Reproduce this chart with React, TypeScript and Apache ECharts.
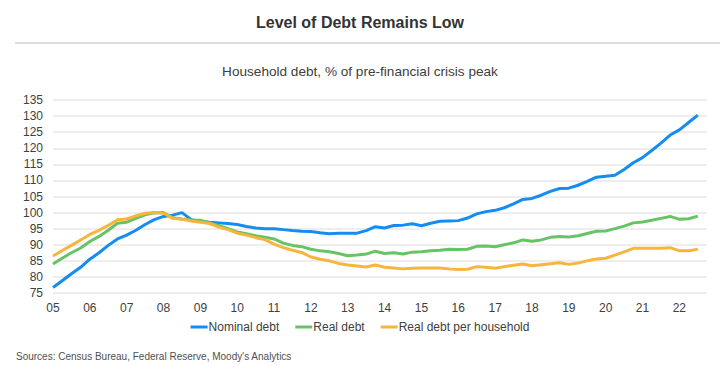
import React, { useEffect, useRef } from "react";
import * as echarts from "echarts";

const years = ["05","06","07","08","09","10","11","12","13","14","15","16","17","18","19","20","21","22"];
const quarters = ["Q1","Q2","Q3","Q4"];
const categories: string[] = years.flatMap((y) => quarters.map((q) => `${y}${q}`));

const nominalDebt = [
  76.7, 78.8, 81, 83, 85.5, 87.5, 89.8, 91.8, 93, 94.5, 96.3, 97.8, 98.8, 99.2, 100, 97.8,
  97.3, 97, 96.8, 96.6, 96.3, 95.7, 95.2, 95, 95, 94.7, 94.4, 94.2, 94.1, 93.7, 93.4, 93.6,
  93.6, 93.6, 94.4, 95.6, 95.2, 96, 96.1, 96.5, 95.9, 96.7, 97.3, 97.4, 97.5, 98.3, 99.6, 100.3,
  100.7, 101.5, 102.7, 104.1, 104.4, 105.4, 106.6, 107.5, 107.6, 108.5, 109.7, 111, 111.3, 111.6,
  113.4, 115.5, 117.1, 119.3, 121.6, 124.1, 125.7, 128, 130.3,
];
const realDebt = [
  84, 85.8, 87.5, 89, 91, 92.6, 94.5, 96.7, 97, 98.2, 99.3, 99.9, 100, 98.4, 98, 97.7,
  97.6, 96.8, 96, 95, 94, 93.4, 92.8, 92.3, 91.8, 90.5, 89.8, 89.4, 88.6, 88.1, 87.8, 87.3,
  86.6, 86.8, 87.1, 88, 87.3, 87.5, 87.1, 87.7, 87.8, 88.1, 88.3, 88.6, 88.5, 88.6, 89.5, 89.6,
  89.4, 90, 90.6, 91.5, 91.1, 91.5, 92.3, 92.6, 92.4, 92.8, 93.5, 94.2, 94.3, 95,
  95.8, 96.8, 97.1, 97.6, 98.2, 98.8, 97.9, 98.1, 98.9,
];
const realDebtPerHousehold = [
  86.5, 88.2, 89.8, 91.5, 93.2, 94.5, 96, 97.8, 98, 99, 99.8, 100, 99.9, 98.2, 97.9, 97.4,
  97, 96.6, 95.5, 94.7, 93.6, 93, 92.2, 91.6, 90.2, 89.1, 88.3, 87.6, 86.2, 85.5, 85, 84.2,
  83.7, 83.4, 83.1, 83.7, 83, 82.8, 82.5, 82.7, 82.8, 82.8, 82.8, 82.5, 82.3, 82.4, 83.2, 83,
  82.7, 83.2, 83.6, 84, 83.5, 83.8, 84.1, 84.4, 83.9, 84.3, 85, 85.6, 85.8, 86.8,
  87.8, 88.9, 88.9, 88.9, 88.9, 89.1, 88.1, 88.1, 88.6,
];

const seriesNames = ["Nominal debt", "Real debt", "Real debt per household"];
const seriesColors = ["#148cf2", "#66c466", "#f7b53c"];

const titleText = "Level of Debt Remains Low";
const subtitleText = "Household debt, % of pre-financial crisis peak";
const sourceText = "Sources: Census Bureau, Federal Reserve, Moody's Analytics";

const FONT = "'Liberation Sans', Arial, sans-serif";

export default function App() {
  const ref = useRef<HTMLDivElement>(null);
  useEffect(() => {
    document.body.style.margin = "0";
    if (!ref.current) return;
    const chart = echarts.init(ref.current, null, { renderer: "svg" });
    const dataSets = [nominalDebt, realDebt, realDebtPerHousehold];
    chart.setOption({
      animation: false,
      backgroundColor: "#ffffff",
      textStyle: { fontFamily: FONT },
      title: [
        {
          text: titleText,
          left: "center",
          top: 9,
          textStyle: { fontFamily: FONT, fontSize: 16, fontWeight: "bold", color: "#333333" },
        },
        {
          text: subtitleText,
          left: "center",
          top: 59,
          textStyle: { fontFamily: FONT, fontSize: 13.6, fontWeight: "normal", color: "#404040" },
        },
      ],
      graphic: [
        {
          type: "line",
          shape: { x1: 15, y1: 43, x2: 720, y2: 43 },
          style: { stroke: "#d0d0d0", lineWidth: 1.5 },
        },
        {
          type: "text",
          left: 16,
          top: 351,
          style: { text: sourceText, fontFamily: FONT, fontSize: 10, fill: "#505050" },
        },
      ],
      legend: {
        data: seriesNames,
        left: "center",
        top: 316,
        icon: "rect",
        itemWidth: 17,
        itemHeight: 3,
        itemGap: 16,
        textStyle: { fontFamily: FONT, fontSize: 12, color: "#404040", padding: [0, 0, 0, -4] },
      },
      grid: { left: 53, right: 13, top: 100, bottom: 72 },
      xAxis: {
        type: "category",
        data: categories,
        boundaryGap: false,
        axisLine: { show: false },
        axisTick: { show: false },
        axisLabel: {
          interval: 3,
          margin: 9,
          color: "#404040",
          fontSize: 12,
          fontFamily: FONT,
          formatter: (v: string) => v.slice(0, 2),
        },
        splitLine: { show: false },
      },
      yAxis: {
        type: "value",
        min: 75,
        max: 135,
        interval: 5,
        axisLine: { show: false },
        axisTick: { show: false },
        axisLabel: { color: "#404040", fontSize: 12, fontFamily: FONT, margin: 10 },
        splitLine: { lineStyle: { color: "#e8e8e8", width: 1.5 } },
      },
      series: seriesNames.map((name, i) => ({
        name,
        type: "line",
        data: dataSets[i],
        showSymbol: false,
        symbol: "none",
        lineStyle: { color: seriesColors[i], width: 3 },
        itemStyle: { color: seriesColors[i] },
      })),
    });
    return () => chart.dispose();
  }, []);
  return <div ref={ref} style={{ width: 720, height: 365 }} />;
}
